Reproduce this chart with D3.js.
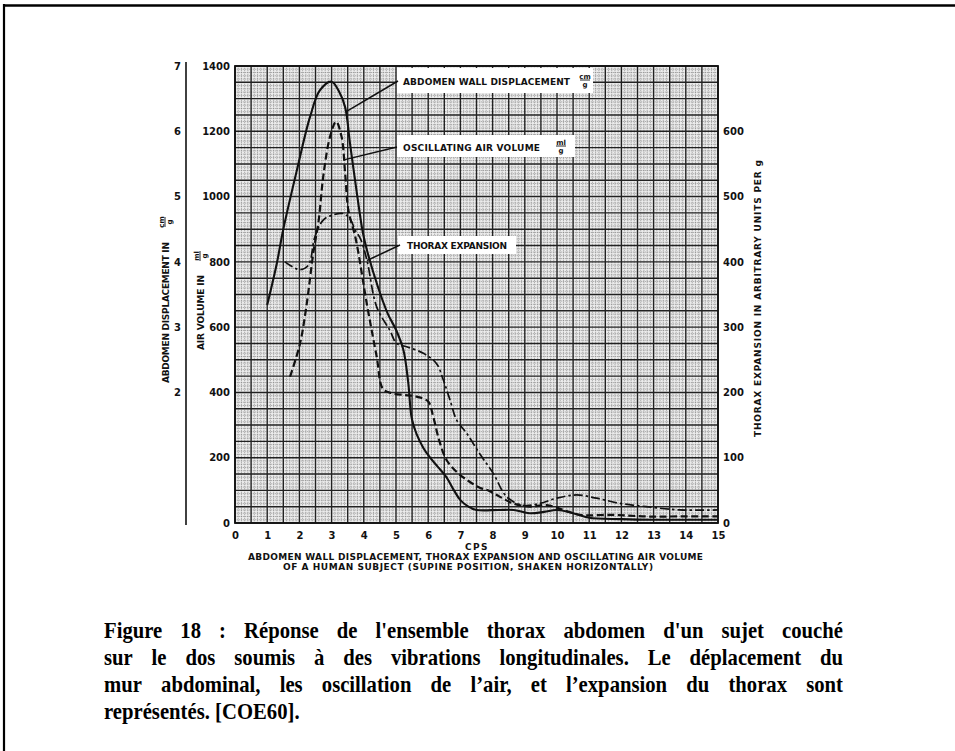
<!DOCTYPE html>
<html><head><meta charset="utf-8">
<script src="https://cdn.jsdelivr.net/npm/d3@7"></script>
<style>body{margin:0;background:#fff}svg{display:block}</style>
</head><body><svg id="c" width="955" height="751"></svg>
<script>
// ---- data ----
const cpsTicks = d3.range(0, 16);
const airTicks = [0, 200, 400, 600, 800, 1000, 1200, 1400];
const abdTicks = [2, 3, 4, 5, 6, 7];
const thoraxTicks = [0, 100, 200, 300, 400, 500, 600];

const abdomenCps = [1.0,1.3,1.5,1.92,2.33,2.64,3.0,3.22,3.42,3.57,3.8,3.97,4.13,4.45,4.75,5.0,5.23,5.38,5.49,5.64,5.85,6.06,6.3,6.57,6.8,7.0,7.25,7.5,8.2,8.65,9.15,9.6,10.0,10.5,11.0,12.0,13.0,14.0,15.0];
const abdomenVal = [3.34,3.98,4.5,5.4,6.22,6.63,6.76,6.62,6.37,5.82,5.0,4.45,4.12,3.6,3.2,2.96,2.65,2.15,1.6,1.36,1.15,1.0,0.86,0.7,0.5,0.35,0.25,0.2,0.2,0.2,0.15,0.17,0.2,0.15,0.08,0.06,0.05,0.05,0.05];

const airCps = [1.71,2.02,2.23,2.43,2.6,2.74,2.95,3.14,3.31,3.42,3.52,3.75,4.1,4.4,4.6,4.9,5.3,5.64,6.0,6.15,6.35,6.57,6.9,7.2,7.6,7.85,8.23,8.64,9.16,9.68,10.2,10.71,11.75,12.78,13.8,15];
const airVal = [448,550,673,826,928,1061,1183,1230,1183,1072,959,870,668,510,410,397,392,387,372,328,250,193,155,132,108,100,80,60,50,55,40,25,25,20,20,20];

const thoraxCps = [1.55,1.8,2.02,2.28,2.48,2.74,3.05,3.36,3.57,3.73,3.9,4.1,4.4,4.81,5.02,5.33,5.85,6.26,6.47,6.68,6.88,7.2,7.6,8.02,8.44,8.95,9.47,9.99,10.61,11.23,11.96,12.78,13.8,15];
const thoraxVal = [400,392,388,395,438,464,472,474,466,449,435,402,331,295,275,270,260,244,219,188,158,137,106,76,40,27,30,38,43,38,30,25,20,20];

const captionLines = [
  "Figure 18 : Réponse de l'ensemble thorax abdomen d'un sujet couché",
  "sur le dos soumis à des vibrations longitudinales. Le déplacement du",
  "mur abdominal, les oscillation de l’air, et l’expansion du thorax sont",
  "représentés. [COE60]."
];

// ---- layout ----
const svg = d3.select("#c");
const L = 235, R = 718, T = 66, B = 523;
const x = d3.scaleLinear().domain([0, 15]).range([L, R]);
const yAir = d3.scaleLinear().domain([0, 1400]).range([B, T]);
const yAbd = d3.scaleLinear().domain([0, 7]).range([B, T]);
const yTh = d3.scaleLinear().domain([0, 700]).range([B, T]);
const FONT = "'DejaVu Sans', sans-serif";

// figure frame
svg.append("line").attr("x1", 4).attr("x2", 955).attr("y1", 5.5).attr("y2", 5.5).attr("stroke", "#000").attr("stroke-width", 2.5);
svg.append("line").attr("x1", 4).attr("x2", 4).attr("y1", 4).attr("y2", 751).attr("stroke", "#000").attr("stroke-width", 2.2);

// graph paper
const grid = svg.append("g");
grid.append("rect").attr("x", L).attr("y", T).attr("width", R - L).attr("height", B - T).attr("fill", "#ececec");
d3.range(0, 150.01, 1).forEach(i => {
  const v = i / 10;
  if (i % 5 === 0) return;
  grid.append("line").attr("x1", x(v)).attr("x2", x(v)).attr("y1", T).attr("y2", B)
    .attr("stroke", "#777").attr("stroke-width", 0.55).attr("stroke-dasharray", "1.3,0.7");
});
d3.range(0, 1400.01, 10).forEach(v => {
  if (v % 50 === 0) return;
  grid.append("line").attr("x1", L).attr("x2", R).attr("y1", yAir(v)).attr("y2", yAir(v))
    .attr("stroke", "#777").attr("stroke-width", 0.55).attr("stroke-dasharray", "1.3,0.7");
});
d3.range(0, 15.01, 0.5).forEach(v => {
  grid.append("line").attr("x1", x(v)).attr("x2", x(v)).attr("y1", T).attr("y2", B)
    .attr("stroke", "#222").attr("stroke-width", 1.4);
});
d3.range(0, 1400.01, 50).forEach(v => {
  grid.append("line").attr("x1", L).attr("x2", R).attr("y1", yAir(v)).attr("y2", yAir(v))
    .attr("stroke", "#222").attr("stroke-width", 1.4);
});
grid.append("rect").attr("x", L).attr("y", T).attr("width", R - L).attr("height", B - T)
  .attr("fill", "none").attr("stroke", "#111").attr("stroke-width", 1.8);

// axes
function styleAxis(g, size) {
  g.selectAll("text").attr("font-family", FONT).attr("font-size", size).attr("fill", "#111").attr("font-weight", "bold");
}
const axB = svg.append("g").attr("transform", `translate(0,${B})`)
  .call(d3.axisBottom(x).tickValues(cpsTicks).tickSize(0).tickPadding(9).tickFormat(d3.format("d")));
axB.select(".domain").remove(); styleAxis(axB, 10);

const axL = svg.append("g").attr("transform", `translate(${L},0)`)
  .call(d3.axisLeft(yAir).tickValues(airTicks).tickSize(0).tickPadding(5).tickFormat(d3.format("d")));
axL.select(".domain").remove(); styleAxis(axL, 10);

const axO = svg.append("g").attr("transform", `translate(186,0)`)
  .call(d3.axisLeft(yAbd).tickValues(abdTicks).tickSize(0).tickSizeOuter(0).tickPadding(5).tickFormat(d3.format("d")));
axO.select(".domain").attr("stroke", "#111").attr("stroke-width", 1.6).attr("d", `M0,${T - 4}V${B + 2}`);
styleAxis(axO, 10);

const axR = svg.append("g").attr("transform", `translate(${R},0)`)
  .call(d3.axisRight(yTh).tickValues(thoraxTicks).tickSize(0).tickPadding(5).tickFormat(d3.format("d")));
axR.select(".domain").remove(); styleAxis(axR, 10);

// fraction helper (num over den), centered at (cx, cy), optional rotation
function frac(cx, cy, num, den, rot) {
  const g = svg.append("g").attr("transform", `translate(${cx},${cy}) rotate(${rot || 0})`);
  g.append("text").attr("x", 0).attr("y", -1.5).attr("text-anchor", "middle").attr("font-family", FONT)
    .attr("font-size", 7).attr("font-weight", "bold").attr("fill", "#111").text(num);
  g.append("line").attr("x1", -5).attr("x2", 5).attr("y1", 0).attr("y2", 0).attr("stroke", "#111").attr("stroke-width", 0.9);
  g.append("text").attr("x", 0).attr("y", 7).attr("text-anchor", "middle").attr("font-family", FONT)
    .attr("font-size", 7).attr("font-weight", "bold").attr("fill", "#111").text(den);
}

function label(xp, yp, str, len, rot, size) {
  return svg.append("text").attr("transform", `translate(${xp},${yp}) rotate(${rot || 0})`)
    .attr("font-family", FONT).attr("font-size", size || 8.5).attr("font-weight", "bold").attr("fill", "#111")
    .attr("textLength", len).attr("lengthAdjust", "spacing").text(str);
}

// axis titles
label(168.5, 383, "ABDOMEN DISPLACEMENT IN", 141, -90, 9);
frac(165, 222, "cm", "g", -90);
label(203.5, 350, "AIR VOLUME IN", 75, -90, 9);
frac(200, 256, "ml", "g", -90);
label(760.5, 437, "THORAX EXPANSION IN ARBITRARY UNITS PER g", 277, -90, 9);

// x captions
svg.append("text").attr("x", 477).attr("y", 549.5).attr("text-anchor", "middle").attr("font-family", FONT)
  .attr("font-size", 9).attr("font-weight", "bold").attr("fill", "#111").attr("letter-spacing", 1.5).text("CPS");
label(248, 559.5, "ABDOMEN WALL DISPLACEMENT, THORAX EXPANSION AND OSCILLATING AIR VOLUME", 455, 0, 9);
label(283, 569.5, "OF A HUMAN SUBJECT   (SUPINE POSITION, SHAKEN HORIZONTALLY)", 370, 0, 9);

// annotation boxes
const boxes = [[397, 68, 196, 25], [397, 135, 178, 22], [398, 236, 118, 18]];
boxes.forEach(b => svg.append("rect").attr("x", b[0]).attr("y", b[1]).attr("width", b[2]).attr("height", b[3]).attr("fill", "#fff"));

// curves
const line = d3.line().x(d => x(d[0])).curve(d3.curveCatmullRom.alpha(0.5));
const abdData = abdomenCps.map((c, i) => [c, abdomenVal[i]]);
const airData = airCps.map((c, i) => [c, airVal[i]]);
const thData = thoraxCps.map((c, i) => [c, thoraxVal[i]]);

svg.append("path").datum(thData).attr("d", line.y(d => yTh(d[1]))).attr("fill", "none")
  .attr("stroke", "#111").attr("stroke-width", 1.7).attr("stroke-dasharray", "9,3,2.5,3");
svg.append("path").datum(airData).attr("d", line.y(d => yAir(d[1]))).attr("fill", "none")
  .attr("stroke", "#111").attr("stroke-width", 2.2).attr("stroke-dasharray", "7,3.5");
svg.append("path").datum(abdData).attr("d", line.y(d => yAbd(d[1]))).attr("fill", "none")
  .attr("stroke", "#111").attr("stroke-width", 2.1);

// leaders (anchored on curves)
function interp(xs, ys, c) { return d3.scaleLinear().domain(xs).range(ys)(c); }
const leaders = [
  { c: 3.44, yv: yAbd(interp(abdomenCps, abdomenVal, 3.44)), tx: 398, ty: 81 },
  { c: 3.38, yv: yAir(interp(airCps, airVal, 3.38)), tx: 397, ty: 147 },
  { c: 4.1, yv: yTh(interp(thoraxCps, thoraxVal, 4.1)), tx: 400, ty: 245 }
];
leaders.forEach(l => svg.append("line").attr("x1", x(l.c)).attr("y1", l.yv).attr("x2", l.tx).attr("y2", l.ty)
  .attr("stroke", "#111").attr("stroke-width", 1.5));

// annotation texts
label(403, 85, "ABDOMEN WALL DISPLACEMENT", 167, 0, 9);
frac(585, 80, "cm", "g", 0);
label(403, 151, "OSCILLATING AIR VOLUME", 137, 0, 9);
frac(561, 146, "ml", "g", 0);
label(407, 249, "THORAX EXPANSION", 100, 0, 9);

// figure caption, justified (tall, slightly condensed serif)
const CAP_FONT = "'Liberation Serif', 'Times New Roman', serif";
const capX0 = 104, capX1 = 843, capY = [638, 665, 692, 719], SX = 0.92;
const capG = svg.append("g").attr("transform", `translate(${capX0},0) scale(${SX},1)`);
captionLines.forEach((ln, i) => {
  const t = capG.append("text").attr("y", capY[i]).attr("font-family", CAP_FONT).attr("font-size", 22.5)
    .attr("font-weight", "bold").attr("fill", "#000");
  const words = ln.split(" ");
  if (i === captionLines.length - 1) { t.attr("x", 0).text(ln); return; }
  const spans = words.map(w => t.append("tspan").text(w));
  const widths = spans.map(s => s.node().getComputedTextLength());
  const gap = ((capX1 - capX0) / SX - d3.sum(widths)) / (words.length - 1);
  let cx = 0;
  spans.forEach((s, k) => { s.attr("x", cx); cx += widths[k] + gap; });
});
</script>
</body></html>
